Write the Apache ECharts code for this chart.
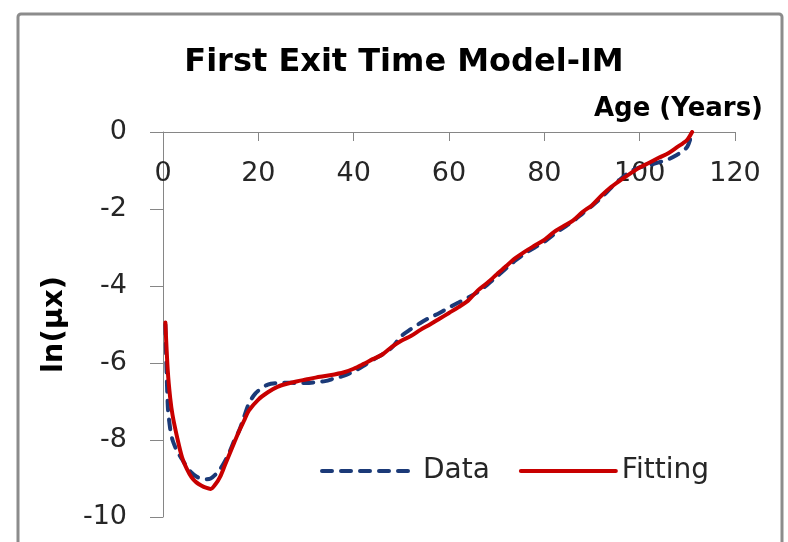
<!DOCTYPE html>
<html>
<head>
<meta charset="utf-8">
<script src="https://cdn.jsdelivr.net/npm/echarts@6/dist/echarts.min.js"></script>
<style>
  html, body { margin: 0; padding: 0; background: #fff; }
  #chart { width: 788px; height: 542px; }
</style>
</head>
<body>
<div id="chart"></div>
<script>
// Observed log mortality by age
const dataAges = [0.5, 1, 1.5, 2, 3, 4, 5, 6, 7, 8, 9, 10, 11, 12, 13, 14, 15, 16, 17, 18, 19, 20, 22, 24, 26, 28, 30, 32, 34, 36, 38, 40, 42, 44, 46, 48, 50, 52, 54, 56, 58, 60, 62, 64, 66, 68, 70, 72, 74, 76, 78, 80, 82, 84, 86, 88, 90, 92, 94, 96, 98, 100, 102, 104, 106, 108, 109, 110, 110.7];
const dataValues = [-5.0, -7.1, -7.7, -8.0, -8.3, -8.5, -8.7, -8.85, -8.95, -9.0, -9.02, -9.0, -8.9, -8.75, -8.55, -8.3, -8.0, -7.75, -7.4, -7.06, -6.85, -6.72, -6.56, -6.52, -6.51, -6.52, -6.52, -6.5, -6.47, -6.4, -6.33, -6.22, -6.08, -5.92, -5.78, -5.6, -5.3, -5.12, -4.96, -4.82, -4.7, -4.56, -4.43, -4.3, -4.16, -3.97, -3.76, -3.54, -3.33, -3.15, -3.0, -2.85, -2.66, -2.49, -2.32, -2.12, -1.92, -1.7, -1.45, -1.22, -1.03, -0.92, -0.86, -0.79, -0.71, -0.58, -0.5, -0.38, -0.15];

// First exit time model (IM) fitted curve
const fitAges = [0.5, 1, 1.5, 2, 3, 4, 5, 6, 7, 8, 9, 10, 11, 12, 13, 14, 15, 16, 17, 18, 20, 22, 24, 26, 28, 30, 32, 35, 38, 40, 42, 44, 46, 48, 50, 52, 54, 56, 58, 60, 62, 64, 66, 68, 70, 72, 74, 76, 78, 80, 82, 84, 86, 88, 90, 92, 94, 96, 98, 100, 102, 104, 106, 108, 109, 110, 111];
const fitValues = [-4.95, -6.2, -6.9, -7.35, -7.95, -8.45, -8.75, -8.97, -9.1, -9.18, -9.24, -9.27, -9.15, -8.95, -8.65, -8.35, -8.05, -7.76, -7.5, -7.24, -6.95, -6.76, -6.62, -6.54, -6.48, -6.43, -6.38, -6.32, -6.24, -6.15, -6.03, -5.9, -5.78, -5.58, -5.42, -5.3, -5.14, -5.0, -4.85, -4.7, -4.55, -4.38, -4.12, -3.92, -3.7, -3.48, -3.27, -3.1, -2.95, -2.8, -2.6, -2.45, -2.3, -2.08, -1.9, -1.65, -1.43, -1.25, -1.08, -0.92, -0.8, -0.67, -0.55, -0.38, -0.3, -0.2, 0.0];

// Axis ticks
const xTicks = { min: 0, max: 120, step: 20 };
const yTicks = { min: -10, max: 0, step: 2 };

const seriesNames = ['Data', 'Fitting'];
const titleText = 'First Exit Time Model-IM';
const xName = 'Age (Years)';
const yName = 'ln(\u03bcx)';

const FONT = '"DejaVu Sans", sans-serif';
const AXIS_GREY = '#868686';
const TEXT = '#262626';

const pairs = (xs, ys) => xs.map((x, i) => [x, ys[i]]);

const chart = echarts.init(document.getElementById('chart'), null, { renderer: 'canvas' });

chart.setOption({
  animation: false,
  backgroundColor: '#ffffff',
  graphic: [{
    type: 'rect',
    z: -10,
    shape: { x: 18, y: 14, width: 764, height: 580, r: 3 },
    style: { fill: '#ffffff', stroke: '#8c8c8c', lineWidth: 3 }
  }],
  title: {
    text: titleText,
    left: 399,
    textAlign: 'center',
    top: 42,
    textStyle: { fontFamily: FONT, fontSize: 32, fontWeight: 'bold', color: '#000' }
  },
  grid: { left: 163, right: 53, top: 132, bottom: 25, containLabel: false },
  legend: {
    data: seriesNames,
    left: 315,
    top: 452,
    itemWidth: 95,
    itemHeight: 10,
    itemGap: 29,
    itemStyle: { opacity: 0 },
    lineStyle: { width: 4 },
    textStyle: { fontFamily: FONT, fontSize: 28, color: TEXT, padding: [0, 0, 0, 1] }
  },
  xAxis: {
    type: 'value',
    position: 'top',
    min: xTicks.min,
    max: xTicks.max,
    interval: xTicks.step,
    name: xName,
    nameLocation: 'end',
    nameGap: 28,
    nameTextStyle: {
      fontFamily: FONT, fontSize: 26, fontWeight: 'bold', color: '#000',
      align: 'right', verticalAlign: 'bottom', padding: [0, 0, 10, 0]
    },
    axisLine: { onZero: false, lineStyle: { color: AXIS_GREY, width: 1 } },
    axisTick: { inside: true, length: 9, lineStyle: { color: AXIS_GREY } },
    axisLabel: { inside: true, margin: 28, fontFamily: FONT, fontSize: 27, color: TEXT },
    splitLine: { show: false }
  },
  yAxis: {
    type: 'value',
    min: yTicks.min,
    max: yTicks.max,
    interval: yTicks.step,
    name: yName,
    nameLocation: 'middle',
    nameRotate: 90,
    nameGap: 94,
    nameTextStyle: { fontFamily: FONT, fontSize: 29, fontWeight: 'bold', color: '#000' },
    axisLine: { show: true, lineStyle: { color: AXIS_GREY, width: 1 } },
    axisTick: { show: true, length: 13, lineStyle: { color: AXIS_GREY } },
    axisLabel: { margin: 36, fontFamily: FONT, fontSize: 27, color: TEXT },
    splitLine: { show: false }
  },
  series: [
    {
      name: seriesNames[0],
      type: 'line',
      data: pairs(dataAges, dataValues),
      symbol: 'none',
      smooth: 0.3,
      z: 2,
      lineStyle: { color: '#1b3a78', width: 4, type: [10, 9], cap: 'round' },
      itemStyle: { color: '#1b3a78' }
    },
    {
      name: seriesNames[1],
      type: 'line',
      data: pairs(fitAges, fitValues),
      symbol: 'none',
      smooth: 0.3,
      z: 3,
      lineStyle: { color: '#c80000', width: 4, cap: 'round' },
      itemStyle: { color: '#c80000' }
    }
  ]
});
</script>
</body>
</html>
